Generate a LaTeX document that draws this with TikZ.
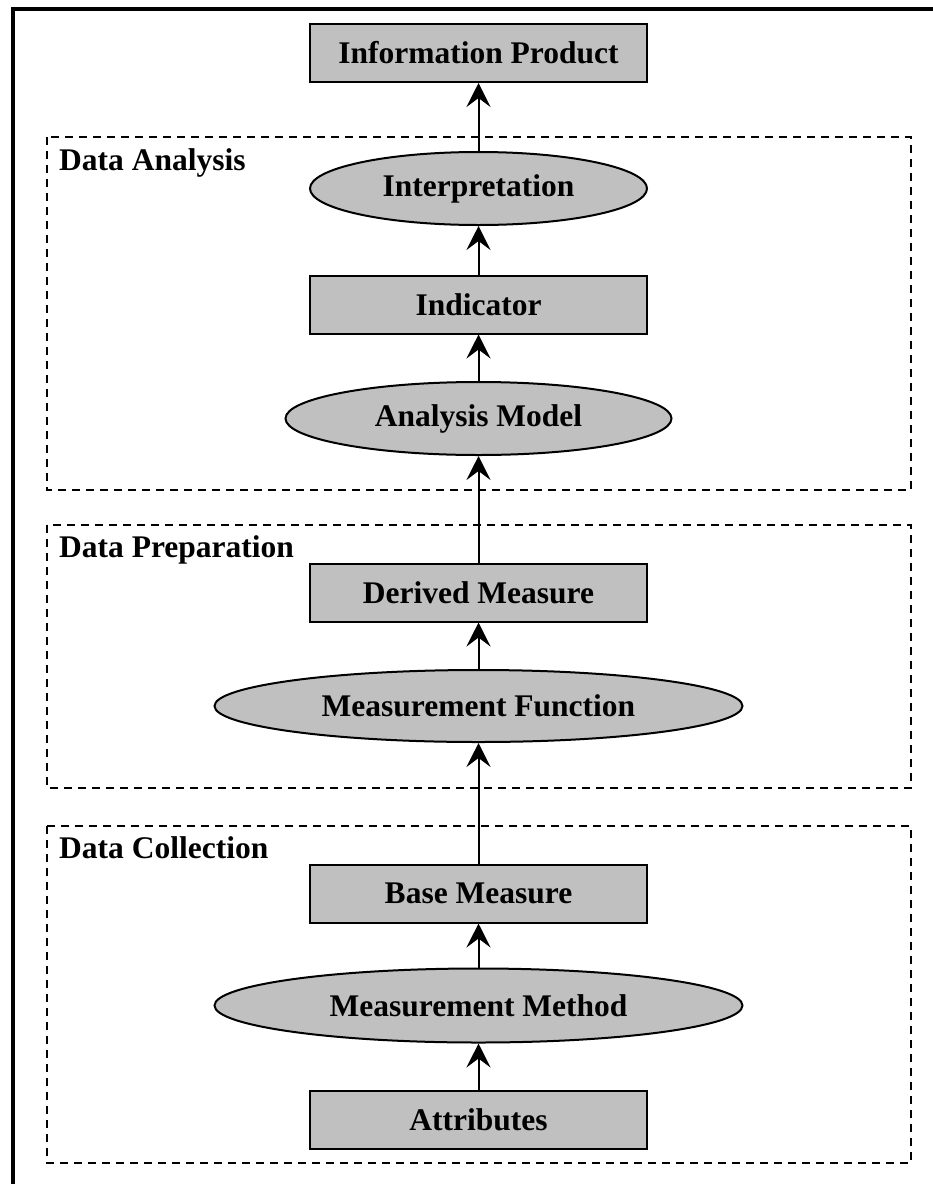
\documentclass[tikz,border=0pt]{standalone}
\usepackage{fontspec}
\setmainfont{Liberation Serif}
\usetikzlibrary{shapes.geometric,arrows.meta}
\definecolor{boxgray}{RGB}{192,192,192}
\tikzset{
  boxnode/.style={draw, line width=2pt, fill=boxgray, rectangle, minimum width=337pt, minimum height=58pt, inner sep=0pt, font=\fontsize{31.5}{36}\selectfont\bfseries},
  ellnode/.style={draw, line width=2pt, fill=boxgray, ellipse, inner sep=0pt, font=\fontsize{31.5}{36}\selectfont\bfseries},
  grpbox/.style={draw, line width=2pt, dash pattern=on 8pt off 6pt},
  grplabel/.style={anchor=base west, inner sep=0pt, font=\fontsize{31.5}{36}\selectfont\bfseries},
  arr/.style={line width=2pt, -{Stealth[length=24pt, width=24pt, inset=9pt]}},
}
\begin{document}
\begin{tikzpicture}[x=1pt, y=-1pt]
\useasboundingbox (0,0) rectangle (933,1184);
% outer frame
\draw[line width=3.3pt] (13,1190) -- (13,9) -- (940,9);
% group boxes
\draw[grpbox] (47,137) rectangle (911,490);
\draw[grpbox] (47,525) rectangle (911,788);
\draw[grpbox] (47,826) rectangle (911,1163);
\node[grplabel] (lda) at (59,170) {Data Analysis};
\node[grplabel] (ldp) at (59,557) {Data Preparation};
\node[grplabel] (ldc) at (59,858) {Data Collection};
% nodes
\node[boxnode] (info) at (478.5,53) {Information Product};
\node[ellnode, minimum width=337pt, minimum height=73pt] (interp) at (478.5,188.5) {Interpretation};
\node[boxnode] (ind) at (478.5,304.5) {Indicator};
\node[ellnode, minimum width=386pt, minimum height=73pt] (am) at (478.5,418.5) {Analysis Model};
\node[boxnode] (dm) at (478.5,592.5) {Derived Measure};
\node[ellnode, minimum width=528pt, minimum height=72pt] (mf) at (478.5,706) {Measurement Function};
\node[boxnode] (bm) at (478.5,893.5) {Base Measure};
\node[ellnode, minimum width=528pt, minimum height=74pt] (mm) at (478.5,1005.5) {Measurement Method};
\node[boxnode] (attr) at (478.5,1120) {Attributes};
% connectors
\draw[arr] (attr.north) -- (mm.south);
\draw[arr] (mm.north) -- (bm.south);
\draw[arr] (bm.north) -- (mf.south);
\draw[arr] (mf.north) -- (dm.south);
\draw[arr] (dm.north) -- (am.south);
\draw[arr] (am.north) -- (ind.south);
\draw[arr] (ind.north) -- (interp.south);
\draw[arr] (interp.north) -- (info.south);
\end{tikzpicture}
\end{document}
